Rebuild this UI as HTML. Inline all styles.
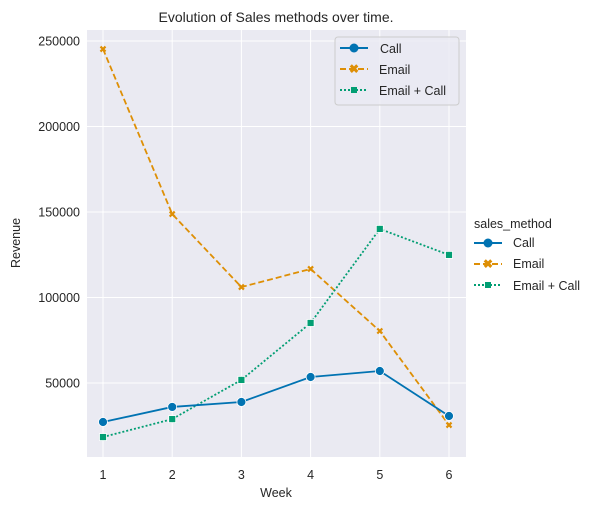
<!DOCTYPE html>
<html><head><meta charset="utf-8"><style>
body{margin:0;background:#fff;font-family:"Liberation Sans",sans-serif}
svg text{font-family:"Liberation Sans",sans-serif;fill:#262626}
</style></head><body>
<svg id="chart" width="600" height="510" xmlns="http://www.w3.org/2000/svg">
<rect x="87" y="30" width="379" height="427" fill="#eaeaf2"/>
<g id="grid"></g>
<g id="marks"></g>
<text x="276" y="22" text-anchor="middle" font-size="14">Evolution of Sales methods over time.</text>
<text x="276" y="497" text-anchor="middle" font-size="12.5">Week</text>
<text x="20" y="243" text-anchor="middle" font-size="12.5" transform="rotate(-90 20 243)">Revenue</text>
<g>
<rect x="335" y="37" width="124" height="68" rx="3" fill="#eaeaf2" fill-opacity="0.8" stroke="#ccc"/>
<g><line x1="340" y1="48" x2="368" y2="48" stroke="#0173b2" stroke-width="2"/><circle cx="354" cy="48" r="4.5" fill="#0173b2"/><text x="380" y="53" font-size="12.5">Call</text></g>
<g><line x1="340" y1="69" x2="368" y2="69" stroke="#de8f05" stroke-width="2" stroke-dasharray="6,3"/><text x="354" y="73" text-anchor="middle" font-size="12" font-weight="bold" style="fill:#de8f05">✖</text><text x="379" y="74" font-size="12.5">Email</text></g>
<g><line x1="340" y1="90" x2="368" y2="90" stroke="#029e73" stroke-width="2" stroke-dasharray="2,2"/><rect x="351" y="87" width="6" height="6" fill="#029e73"/><text x="379" y="95" font-size="12.5">Email + Call</text></g>
</g>
<g>
<text x="474" y="228" font-size="12.5">sales_method</text>
<g><line x1="474" y1="243" x2="502" y2="243" stroke="#0173b2" stroke-width="2"/><circle cx="488" cy="243" r="4.5" fill="#0173b2"/><text x="513" y="247" font-size="12.5">Call</text></g>
<g><line x1="474" y1="264" x2="502" y2="264" stroke="#de8f05" stroke-width="2" stroke-dasharray="6,3"/><text x="488" y="268" text-anchor="middle" font-size="12" font-weight="bold" style="fill:#de8f05">✖</text><text x="513" y="268" font-size="12.5">Email</text></g>
<g><line x1="474" y1="285" x2="502" y2="285" stroke="#029e73" stroke-width="2" stroke-dasharray="2,2"/><rect x="485" y="282" width="6" height="6" fill="#029e73"/><text x="513" y="290" font-size="12.5">Email + Call</text></g>
</g>
</svg>
<script>
const weeks=[1,2,3,4,5,6];
const callValues=[27200,36000,38900,53500,57000,30700];
const emailValues=[245300,148800,106100,116700,80400,25400];
const emailCallValues=[18400,28900,51800,85100,140100,124900];
const yTicks=[50000,100000,150000,200000,250000];
const xTicks=[1,2,3,4,5,6];
const NS="http://www.w3.org/2000/svg";
function xs(v){return 103+(v-1)*(449-103)/5;}
function ys(v){return 383-(v-50000)/50000*85.5;}
function mk(tag,attrs,parent){const e=document.createElementNS(NS,tag);for(const k in attrs)e.setAttribute(k,attrs[k]);parent.appendChild(e);return e;}
const grid=document.getElementById('grid'),marks=document.getElementById('marks');
xTicks.forEach(t=>{
 const l=mk('line',{x1:xs(t),x2:xs(t),y1:30,y2:457,stroke:'#fff','stroke-width':1},grid);
 
 
 const tx=mk('text',{x:xs(t),y:479,'text-anchor':'middle','font-size':12.5},grid);tx.textContent=t;
 
 
});
yTicks.forEach(t=>{
 const l=mk('line',{x1:87,x2:466,y1:ys(t),y2:ys(t),stroke:'#fff','stroke-width':1},grid);
 
 
 const tx=mk('text',{x:80,y:ys(t)+4.5,'text-anchor':'end','font-size':12.5},grid);tx.textContent=t;
 
 
});
function series(vals,color,dash,marker,name){
 const pts=weeks.map((w,i)=>xs(w)+','+ys(vals[i])).join(' ');
 const pl=mk('polyline',{points:pts,fill:'none',stroke:color,'stroke-width':1.8,'stroke-dasharray':dash},marks);
 
 
 weeks.forEach((w,i)=>{
  const x=xs(w),y=ys(vals[i]);let m;
  if(marker==='o')m=mk('circle',{cx:x,cy:y,r:4.5,fill:color,stroke:'#fff','stroke-width':0.8},marks);
  else if(marker==='s')m=mk('rect',{x:x-3.5,y:y-3.5,width:7,height:7,fill:color,stroke:'#fff','stroke-width':0.8},marks);
  else m=mk('path',{d:`M${x-2.5},${y-2.5}L${x+2.5},${y+2.5}M${x-2.5},${y+2.5}L${x+2.5},${y-2.5}`,stroke:color,'stroke-width':2.2},marks);
  
  
 });
}
series(emailValues,'#de8f05','6,3','x','email');
series(emailCallValues,'#029e73','2,2','s','email-call');
series(callValues,'#0173b2','none','o','call');
</script>
</body></html>
